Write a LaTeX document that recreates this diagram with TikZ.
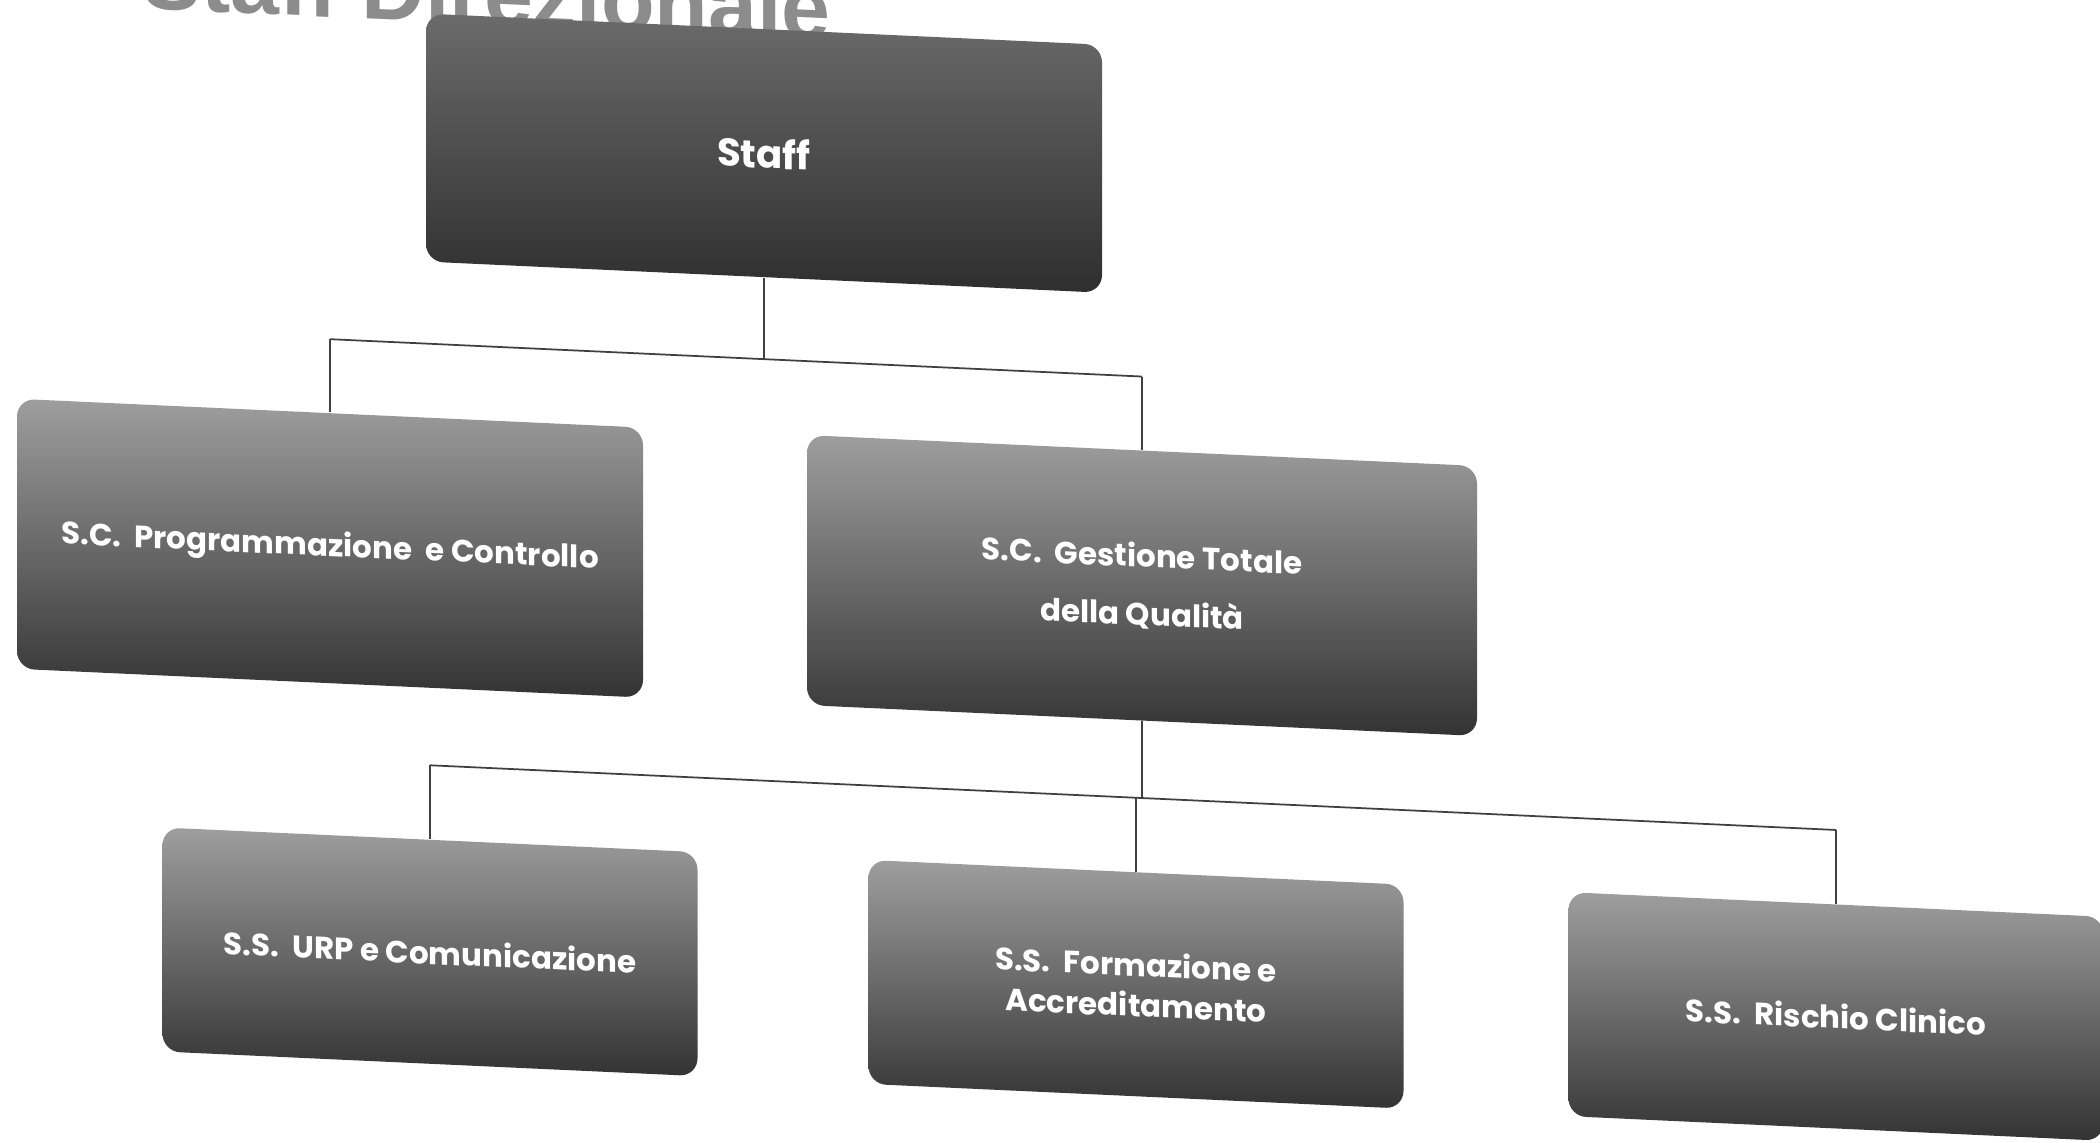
\documentclass[tikz,border=0pt]{standalone}
\usepackage{fontspec}
\setmainfont{Liberation Sans}
\newfontfamily\unitfont{Poppins}
\usepackage{tikz}
\usetikzlibrary{positioning}
\tikzset{
  unit/.style={rounded corners=5pt, top color=black!38, bottom color=black!80,
              text=white, font=\unitfont\bfseries\fontsize{8.8}{11.5}\selectfont,
              align=center, inner sep=2pt, transform shape},
  head/.style={unit, top color=black!58, bottom color=black!82,
              font=\unitfont\bfseries\fontsize{11}{14}\selectfont,
              minimum width=6.76cm, minimum height=2.48cm},
  mid/.style={unit, minimum width=6.5cm, minimum height=2.7cm},
  low/.style={unit, minimum width=5.35cm, minimum height=2.24cm},
  link/.style={draw=black!75, line width=0.5pt},
}

\begin{document}
\begin{tikzpicture}
  \useasboundingbox (0,0) rectangle (21,-11.43);
  \begin{scope}[yslant=-0.046]
    \node[font=\bfseries\fontsize{25}{30}\selectfont, text=black!45, anchor=base west, transform shape] (title) at (1.30,-0.02) {Staff Direzionale};
    \node[head] (staff) at (7.64,-1.18) {Staff};
    \node[mid, minimum width=6.26cm] (prog) at (3.30,-5.33) {S.C.~~Programmazione~~e Controllo};
    \node[mid, minimum width=6.7cm] (gest) at (11.42,-5.33) {S.C.~~Gestione Totale\\[5pt]della Qualità};
    \node[low] (urp) at (4.30,-9.32) {S.S.~~URP e Comunicazione};
    \node[low] (form) at (11.36,-9.32) {S.S.~~Formazione e\\Accreditamento};
    \node[low] (risc) at (18.36,-9.32) {S.S.~~Rischio Clinico};
    % upper bus
    \coordinate (b0) at (7.64,-3.24);
    \coordinate (bl) at (3.30,-3.24);
    \coordinate (br) at (11.42,-3.24);
    % lower bus
    \coordinate (c0) at (11.42,-7.455);
    \coordinate (cl) at (4.30,-7.455);
    \coordinate (cm) at (11.36,-7.455);
    \coordinate (cr) at (18.36,-7.455);
  \end{scope}
  \draw[link] (staff.south) -- (b0);
  \draw[link] (bl) -- (br);
  \draw[link] (bl) -- (prog.north);
  \draw[link] (br) -- (gest.north);
  \draw[link] (gest.south) -- (c0);
  \draw[link] (cl) -- (cr);
  \draw[link] (cl) -- (urp.north);
  \draw[link] (cm) -- (form.north);
  \draw[link] (cr) -- (risc.north);
\end{tikzpicture}
\end{document}
